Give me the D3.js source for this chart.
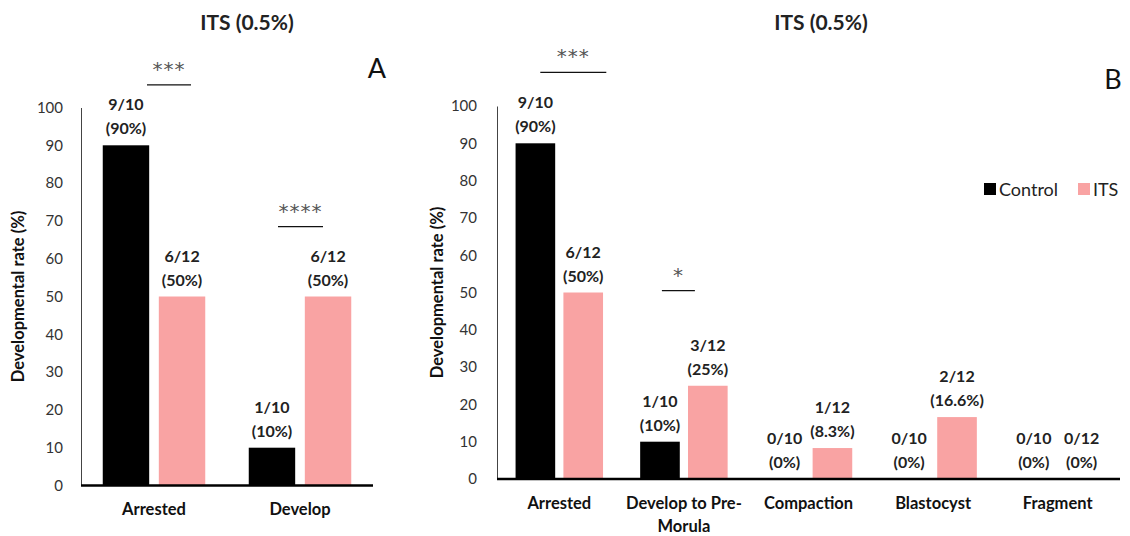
<!DOCTYPE html>
<html>
<head>
<meta charset="utf-8">
<script src="https://cdn.jsdelivr.net/npm/d3@7"></script>
<style>
  html, body { margin: 0; padding: 0; background: #fff; }
  svg { display: block; font-family: Lato, "Open Sans", sans-serif; }
</style>
</head>
<body>
<svg id="chart" width="1130" height="536"></svg>
<script>
// ---- Data -------------------------------------------------------------
const series = ["Control", "ITS"];
const seriesColors = ["#000000", "#F9A3A3"];
const yTicks = [0, 10, 20, 30, 40, 50, 60, 70, 80, 90, 100];

// Panel A: arrested vs developed embryos
const categoriesA = ["Arrested", "Develop"];
const controlA = [90, 10];
const itsA = [50, 50];
const controlCountsA = ["9/10", "1/10"];
const itsCountsA = ["6/12", "6/12"];

// Panel B: developmental stage reached
const categoriesB = ["Arrested", "Develop to Pre-\nMorula", "Compaction", "Blastocyst", "Fragment"];
const controlB = [90, 10, 0, 0, 0];
const itsB = [50, 25, 8.3, 16.6, 0];
const controlCountsB = ["9/10", "1/10", "0/10", "0/10", "0/10"];
const itsCountsB = ["6/12", "3/12", "1/12", "2/12", "0/12"];

// Significance marks: category index, stars, bar level (in % units)
const sigCatsA = [0, 1];
const sigStarsA = ["***", "****"];
const sigLevelsA = [106, 68.5];
const sigCatsB = [0, 1];
const sigStarsB = ["***", "*"];
const sigLevelsB = [109, 50.5];

// ---- Drawing ----------------------------------------------------------
const svg = d3.select("#chart");

function panel(opt) {
  const g = svg.append("g");
  const x0 = d3.scaleBand().domain(opt.categories.map((d, i) => i))
    .range([opt.left, opt.right]).padding(0);
  const band = x0.bandwidth();
  const barW = band * 0.318;
  const gap = band * 0.066;
  const x1 = d3.scaleBand().domain(series)
    .range([-(barW + gap / 2), barW + gap / 2])
    .paddingInner(gap / (barW + gap)).paddingOuter(0);
  const y = d3.scaleLinear().domain([0, 100]).range([opt.y0, opt.y100]);

  // Y axis (labels only, thin vertical line)
  const yAxis = d3.axisLeft(y).tickValues(yTicks).tickSize(0).tickPadding(opt.tickPad);
  const ya = g.append("g").attr("transform", `translate(${opt.left},0)`).call(yAxis);
  ya.select(".domain").attr("stroke", "#444").attr("stroke-width", 1);
  ya.selectAll("text").attr("font-size", 15).attr("fill", "#333")
    .attr("font-family", "Lato, sans-serif");

  // Y axis title
  g.append("text")
    .attr("transform", `translate(${opt.yLabelX},${(opt.y0 + opt.y100) / 2}) rotate(-90)`)
    .attr("text-anchor", "middle").attr("font-weight", "bold").attr("font-size", 16.5)
    .attr("fill", "#111").text("Developmental rate (%)");

  // Bars
  const rows = opt.categories.map((c, i) => ({
    i,
    vals: [
      { s: "Control", v: opt.control[i], n: opt.controlCounts[i] },
      { s: "ITS", v: opt.its[i], n: opt.itsCounts[i] }
    ]
  }));
  const grp = g.selectAll("g.cat").data(rows).join("g").attr("class", "cat")
    .attr("transform", d => `translate(${x0(d.i) + band / 2},0)`);
  grp.selectAll("rect").data(d => d.vals).join("rect")
    .attr("x", d => x1(d.s)).attr("width", x1.bandwidth())
    .attr("y", d => y(d.v)).attr("height", d => y(0) - y(d.v))
    .attr("fill", d => seriesColors[series.indexOf(d.s)]);

  // Value labels: count on the first line, percentage below
  const lab = grp.selectAll("text.val").data(d => d.vals).join("text").attr("class", "val")
    .attr("text-anchor", "middle").attr("font-weight", "bold").attr("font-size", 16)
    .attr("fill", "#222");
  lab.append("tspan").attr("x", d => x1(d.s) + x1.bandwidth() / 2)
    .attr("y", d => y(d.v) - 35).text(d => d.n);
  lab.append("tspan").attr("x", d => x1(d.s) + x1.bandwidth() / 2)
    .attr("y", d => y(d.v) - 11).text(d => `(${d.v}%)`);

  // X axis baseline
  g.append("line").attr("x1", opt.left).attr("x2", opt.right)
    .attr("y1", y(0)).attr("y2", y(0)).attr("stroke", "#000").attr("stroke-width", 2.5);

  // Category labels (may wrap on "\n")
  const cl = g.selectAll("text.cat").data(opt.categories).join("text").attr("class", "cat")
    .attr("text-anchor", "middle").attr("font-weight", "bold").attr("font-size", 16.5)
    .attr("fill", "#111");
  cl.each(function (d, i) {
    d.split("\n").forEach((line, k) => {
      d3.select(this).append("tspan").attr("x", x0(i) + band / 2)
        .attr("y", opt.catY + k * 23).text(line);
    });
  });

  // Significance brackets
  opt.sigCats.forEach((ci, k) => {
    const cx = x0(ci) + band / 2;
    const [a, b] = opt.sigSpan[k];
    const ly = y(opt.sigLevels[k]);
    g.append("line").attr("x1", cx + a).attr("x2", cx + b).attr("y1", ly).attr("y2", ly)
      .attr("stroke", "#111").attr("stroke-width", 1.2);
    g.append("text").attr("x", cx + (a + b) / 2).attr("y", ly - 9)
      .attr("text-anchor", "middle").attr("font-size", 20).attr("fill", "#555")
      .attr("font-family", "'DejaVu Sans', sans-serif")
      .attr("letter-spacing", 1).text(opt.sigStars[k]);
  });

  // Title and panel letter
  g.append("text").attr("x", opt.titleX).attr("y", 30).attr("text-anchor", "middle")
    .attr("font-weight", "bold").attr("font-size", 21).attr("fill", "#222").text("ITS (0.5%)");
  g.append("text").attr("x", opt.letterX).attr("y", opt.letterY).attr("text-anchor", "middle")
    .attr("font-size", 27).attr("fill", "#111").text(opt.letter);

  return g;
}

panel({
  categories: categoriesA, control: controlA, its: itsA,
  controlCounts: controlCountsA, itsCounts: itsCountsA,
  left: 81, right: 373, y0: 485.5, y100: 107.5, tickPad: 18,
  yLabelX: 24, catY: 515,
  sigCats: sigCatsA, sigStars: sigStarsA, sigLevels: sigLevelsA,
  sigSpan: [[-7, 37], [-22, 23]],
  titleX: 247, letter: "A", letterX: 377, letterY: 78
});

const gB = panel({
  categories: categoriesB, control: controlB, its: itsB,
  controlCounts: controlCountsB, itsCounts: itsCountsB,
  left: 497, right: 1120, y0: 479, y100: 106, tickPad: 20,
  yLabelX: 443, catY: 509,
  sigCats: sigCatsB, sigStars: sigStarsB, sigLevels: sigLevelsB,
  sigSpan: [[-19, 47], [-22, 11]],
  titleX: 821, letter: "B", letterX: 1113, letterY: 89
});

// Legend
const legend = gB.append("g").attr("transform", "translate(984,189)");
const li = legend.selectAll("g").data(series).join("g")
  .attr("transform", (d, i) => `translate(${i === 0 ? 0 : 94},0)`);
li.append("rect").attr("x", 0).attr("y", -6).attr("width", 12).attr("height", 12)
  .attr("fill", (d, i) => seriesColors[i]);
li.append("text").attr("x", 15).attr("y", 6.5).attr("font-size", 18).attr("fill", "#222")
  .text(d => d);
</script>
</body>
</html>
